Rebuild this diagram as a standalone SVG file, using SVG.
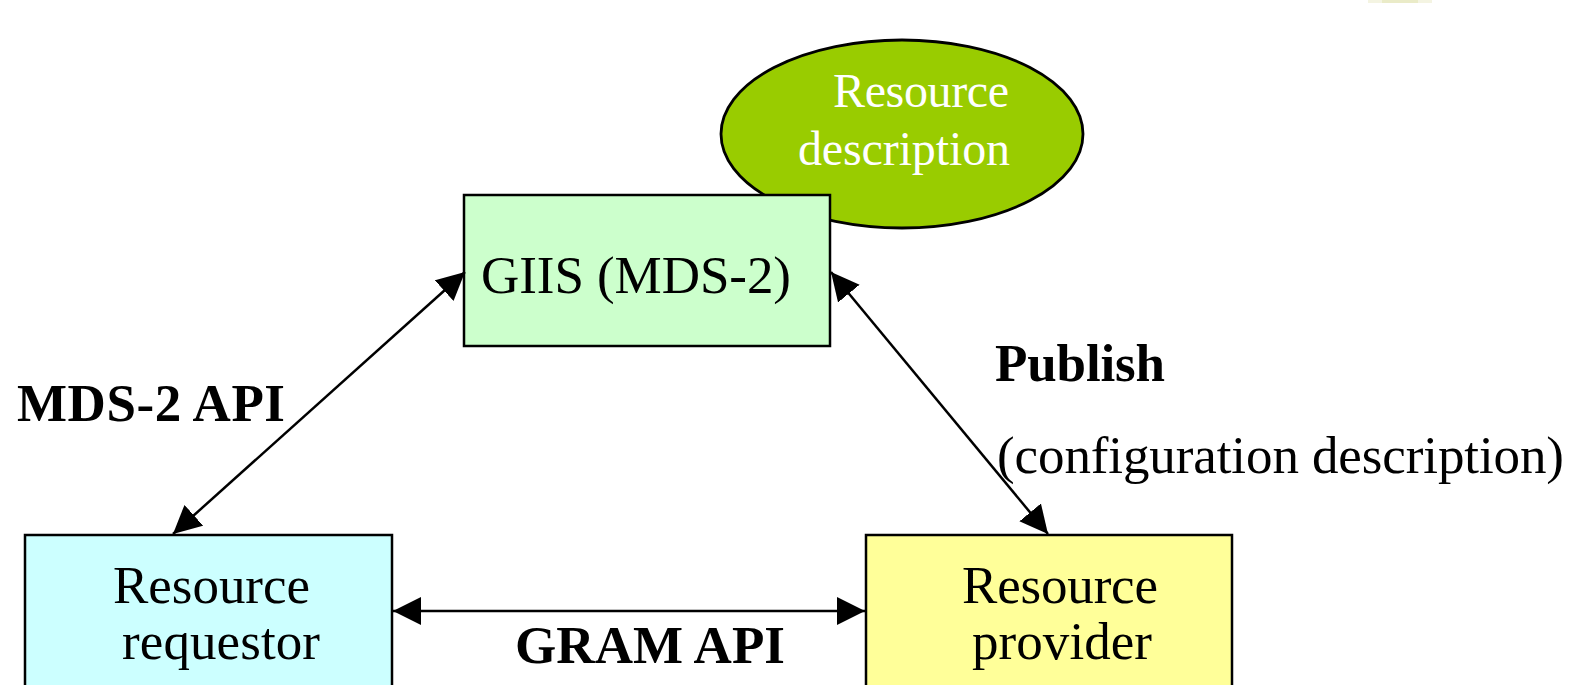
<svg xmlns="http://www.w3.org/2000/svg" width="1584" height="685" viewBox="0 0 1584 685">
  <style>
    .box { stroke: #000; stroke-width: 2.5; }
    .lbl { font-family: "Liberation Serif", "Times New Roman", serif; font-size: 53px; fill: #000; }
    .bold { font-weight: bold; }
    .inv { font-size: 48px; fill: #fff; }
    .conn { stroke: #000; stroke-width: 2.5; fill: none; marker-start: url(#head); marker-end: url(#head); }
  </style>
  <defs>
    <marker id="head" markerUnits="userSpaceOnUse" markerWidth="30" markerHeight="30" refX="28" refY="14" orient="auto-start-reverse">
      <path d="M0,0 L28,14 L0,28 Z" fill="#000"/>
    </marker>
  </defs>
  <rect width="1584" height="685" fill="#fff"/>

  <!-- small pale mark at the top edge -->
  <rect x="1368" y="0" width="64" height="3" fill="#f4f4e2"/>
  <rect x="1382" y="0" width="36" height="3" fill="#eaebc8"/>

  <!-- resource description ellipse (behind the GIIS box) -->
  <g id="resource-description">
    <ellipse cx="902" cy="134" rx="181" ry="94" fill="#99cc00" stroke="#000" stroke-width="2.8"/>
    <text class="lbl inv" x="1009" y="107" text-anchor="end" textLength="176">Resource</text>
    <text class="lbl inv" x="1010" y="165" text-anchor="end" textLength="212">description</text>
  </g>

  <g id="giis">
    <rect class="box" x="464" y="195" width="366" height="151" fill="#ccffcc"/>
    <text class="lbl" x="481" y="293" textLength="310">GIIS (MDS-2)</text>
  </g>

  <g id="resource-requestor">
    <rect class="box" x="25" y="535" width="367" height="170" fill="#ccffff"/>
    <text class="lbl" x="113" y="603" textLength="197">Resource</text>
    <text class="lbl" x="122" y="659" textLength="198">requestor</text>
  </g>

  <g id="resource-provider">
    <rect class="box" x="866" y="535" width="366" height="170" fill="#ffff99"/>
    <text class="lbl" x="962" y="603" textLength="196">Resource</text>
    <text class="lbl" x="972" y="659" textLength="180">provider</text>
  </g>

  <g id="connectors">
    <line class="conn" x1="173" y1="534" x2="465" y2="272"/>
    <line class="conn" x1="1048" y1="534" x2="831" y2="272"/>
    <line class="conn" x1="393" y1="611" x2="865" y2="611"/>
  </g>

  <g id="labels">
    <text class="lbl bold" x="17" y="421" textLength="268">MDS-2 API</text>
    <text class="lbl bold" x="995" y="381" textLength="170">Publish</text>
    <text class="lbl" x="997" y="473" textLength="567">(configuration description)</text>
    <text class="lbl bold" x="515" y="663" textLength="270">GRAM API</text>
  </g>
</svg>
